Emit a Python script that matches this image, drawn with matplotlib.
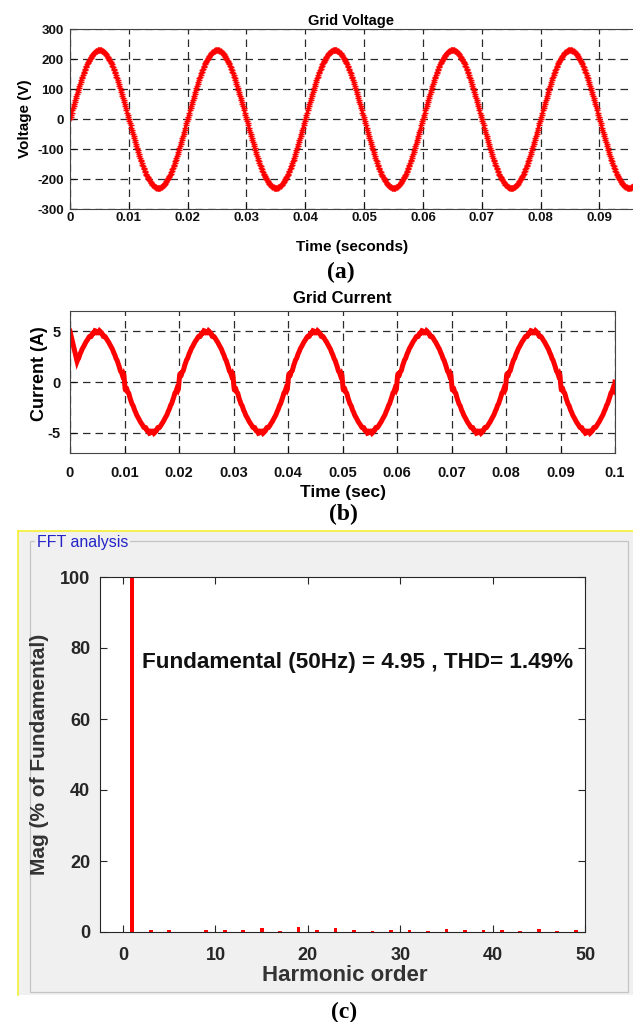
import numpy as np
import matplotlib.pyplot as plt
from matplotlib.patches import Rectangle
from matplotlib.lines import Line2D

plt.rcParams['font.family'] = ['Liberation Sans', 'DejaVu Sans']
plt.rcParams['font.weight'] = 'bold'
plt.rcParams['axes.unicode_minus'] = False

# grid quantities
f_grid = 50.0          # Hz
v_peak = 230.0         # V
i_fund = 4.95          # A, fundamental of the grid current
thd_pct = 1.49

# current spectrum, % of fundamental
harm_order = [1, 3, 5, 9, 11, 13, 15, 17, 19, 21, 23, 25, 27, 29, 31, 33,
              35, 37, 39, 41, 43, 45, 47, 49]
harm_mag = [100, 0.6, 0.5, 0.5, 0.5, 0.5, 1.0, 0.3, 1.5, 0.5, 1.1, 0.5,
            0.4, 0.5, 0.7, 0.2, 0.9, 0.5, 0.5, 0.6, 0.2, 0.8, 0.3, 0.6]

# start-up sample of the current before it settles
i_start_t = [0.0]
i_start_val = [5.0]
t_settle = 0.0013

v_ticks = [-300, -200, -100, 0, 100, 200, 300]
i_ticks = [-5, 0, 5]
t_ticks = [0, 0.01, 0.02, 0.03, 0.04, 0.05, 0.06, 0.07, 0.08, 0.09, 0.1]
t_labels = ['0', '0.01', '0.02', '0.03', '0.04', '0.05', '0.06', '0.07',
            '0.08', '0.09', '0.1']
h_ticks = [0, 10, 20, 30, 40, 50]
m_ticks = [0, 20, 40, 60, 80, 100]

W, H = 633, 1022


def px_rect(l, t, r, b):
    return [l / W, 1 - b / H, (r - l) / W, (b - t) / H]


fig = plt.figure(figsize=(W / 100, H / 100), dpi=100)

# waveforms
w = 2 * np.pi * f_grid
t_v = np.arange(0, 0.1, 1e-4)
v = v_peak * np.sin(w * t_v)

t_i = np.arange(t_settle, 0.1 + 1e-6, 2e-5)
i_ss = np.zeros_like(t_i)
for h, m in zip(harm_order, harm_mag):
    i_ss += i_fund * m / 100.0 * np.sin(h * w * t_i)
t_cur = np.concatenate([i_start_t, t_i])
i_cur = np.concatenate([i_start_val, i_ss])

grid_kw = dict(color='#2b2b2b', linestyle=(0, (6, 4)), linewidth=0.9)

# ---- (a) grid voltage
ax1 = fig.add_axes(px_rect(70, 29, 633, 209))
ax1.plot(t_v, v, color='#ff0000', lw=2.0, marker='+', ms=4, mew=1.0)
ax1.set_xlim(0, 0.0957)
ax1.set_ylim(-300, 300)
ax1.set_xticks(t_ticks[:-1])
ax1.set_xticklabels(t_labels[:-1])
ax1.set_yticks(v_ticks)
ax1.grid(True, **grid_kw)
ax1.spines['right'].set_visible(False)
ax1.tick_params(direction='in', length=4, labelsize=9.5, pad=2.5,
                colors='#111111')
ax1.tick_params(axis='y', pad=4.5)
ax1.set_title('Grid Voltage', fontsize=10.5, fontweight='bold', pad=3)
ax1.set_xlabel('Time (seconds)', fontsize=11, fontweight='bold')
ax1.set_ylabel('Voltage (V)', fontsize=11, fontweight='bold')
ax1.xaxis.set_label_coords((352 - 70) / (633 - 70), -(247 - 209) / 180)
ax1.xaxis.label.set_va('center')
ax1.yaxis.set_label_coords(-(70 - 25) / (633 - 70), 0.5)
ax1.yaxis.label.set_va('center')

# ---- (b) grid current
ax2 = fig.add_axes(px_rect(70, 311, 615, 453))
ax2.plot(t_cur, i_cur, color='#ff0000', lw=3.6, solid_joinstyle='miter')
ax2.set_xlim(0, 0.1)
ax2.set_ylim(-7, 7)
ax2.set_xticks(t_ticks)
ax2.set_xticklabels(t_labels)
ax2.set_yticks(i_ticks)
ax2.grid(True, **grid_kw)
ax2.tick_params(direction='in', length=4, labelsize=10.5, pad=9,
                colors='#111111')
ax2.tick_params(axis='y', pad=6.5)
ax2.set_title('Grid Current', fontsize=12, fontweight='bold', pad=6)
ax2.set_xlabel('Time (sec)', fontsize=12.5, fontweight='bold')
ax2.set_ylabel('Current (A)', fontsize=13, fontweight='bold')
ax2.xaxis.set_label_coords((343 - 70) / 545, -(492 - 453) / 142)
ax2.xaxis.label.set_va('center')
ax2.yaxis.set_label_coords(-(70 - 39) / 545, (453 - 374) / 142)
ax2.yaxis.label.set_va('center')

for ax in (ax1, ax2):
    for s in ax.spines.values():
        s.set_color('#444444')
        s.set_linewidth(0.8)

# ---- (c) FFT panel frame
fig.add_artist(Rectangle((18 / W, 1 - 995 / H), (W - 18) / W, (995 - 531) / H,
                         transform=fig.transFigure, facecolor='#f0f0f0',
                         edgecolor='none', zorder=-2))
fig.add_artist(Line2D([18 / W, 1], [1 - 531 / H] * 2, color='#f5f032',
                      lw=1.2, transform=fig.transFigure, zorder=-1))
fig.add_artist(Line2D([18 / W] * 2, [1 - 531 / H, 1 - 995 / H],
                      color='#f5f032', lw=1.2, transform=fig.transFigure,
                      zorder=-1))
fig.add_artist(Rectangle((30 / W, 1 - 992 / H), (628 - 30) / W, (992 - 541) / H,
                         transform=fig.transFigure, facecolor='none',
                         edgecolor='#c4c4c4', lw=0.9, zorder=-1))
fig.text(37 / W, 1 - 543 / H, 'FFT analysis', fontsize=11.5,
         fontweight='normal', color='#2323c8', ha='left', va='center',
         bbox=dict(facecolor='#f0f0f0', edgecolor='none', pad=1.5))

ax3 = fig.add_axes(px_rect(100, 577, 585, 932))
ax3.bar(harm_order, harm_mag, width=0.4, color='#ff0000')
ax3.set_xlim(-2.5, 50)
ax3.set_ylim(0, 100)
ax3.set_xticks(h_ticks)
ax3.set_yticks(m_ticks)
ax3.tick_params(direction='in', length=5, labelsize=13, top=True,
                right=True, colors='#262626', pad=11)
ax3.tick_params(axis='y', pad=7)
for s in ax3.spines.values():
    s.set_color('#262626')
    s.set_linewidth(0.8)
ax3.set_xlabel('Harmonic order', fontsize=16, fontweight='bold',
               color='#333333')
ax3.set_ylabel('Mag (% of Fundamental)', fontsize=15, fontweight='bold',
               color='#333333')
ax3.xaxis.set_label_coords((345 - 100) / 485, -(975 - 932) / 355)
ax3.xaxis.label.set_va('center')
ax3.yaxis.set_label_coords(-(100 - 40) / 485, 0.5)
ax3.yaxis.label.set_va('center')
ax3.text(2.05, 75.8,
         f'Fundamental ({f_grid:.0f}Hz) = {i_fund} , THD= {thd_pct}%',
         fontsize=16.2, fontweight='bold', color='#111111', ha='left',
         va='center')

# panel captions
cap_kw = dict(fontsize=17, fontweight='bold', ha='center', va='center',
              family=['Liberation Serif', 'DejaVu Serif'])
fig.text(341 / W, 1 - 272 / H, '(a)', **cap_kw)
fig.text(343 / W, 1 - 514 / H, '(b)', **cap_kw)
fig.text(344 / W, 1 - 1012 / H, '(c)', **cap_kw)

fig.savefig('out.png', dpi=100)
